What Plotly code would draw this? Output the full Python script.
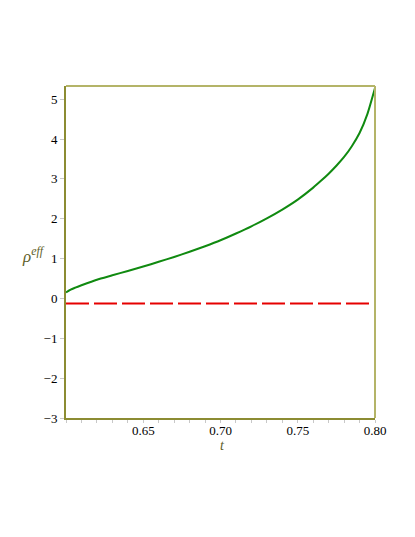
import plotly.graph_objects as go

# values
t_vals = [0.600, 0.603, 0.606, 0.610, 0.620, 0.630, 0.640, 0.650, 0.660, 0.670,
          0.680, 0.690, 0.700, 0.710, 0.720, 0.730, 0.740, 0.750, 0.760, 0.765,
          0.770, 0.775, 0.780, 0.785, 0.790, 0.795, 0.800]
rho_eff = [0.15, 0.22, 0.27, 0.33, 0.47, 0.58, 0.69, 0.80, 0.92, 1.04,
           1.17, 1.31, 1.46, 1.63, 1.81, 2.01, 2.23, 2.48, 2.78, 2.95,
           3.13, 3.33, 3.55, 3.82, 4.15, 4.62, 5.28]
t_const = [0.600, 0.800]
rho_const = [-0.13, -0.13]

x_ticks = [0.65, 0.70, 0.75, 0.80]
x_ticktext = ['0.65', '0.70', '0.75', '0.80']
y_ticks = [-3, -2, -1, 0, 1, 2, 3, 4, 5]

serif = '"Liberation Serif", "Times New Roman", "DejaVu Serif", serif'
olive = '#8c8c32'

fig = go.Figure()

fig.add_trace(go.Scatter(
    x=t_const, y=rho_const, mode='lines',
    line=dict(color='#e60000', width=2, dash='23px,5px'),
    showlegend=False, hoverinfo='skip'
))

fig.add_trace(go.Scatter(
    x=t_vals, y=rho_eff, mode='lines', line_shape='spline',
    line=dict(color='#108a10', width=2, smoothing=0.6),
    showlegend=False
))

fig.update_xaxes(
    range=[0.6, 0.8], tickvals=x_ticks, ticktext=x_ticktext,
    showgrid=False, zeroline=False,
    showline=True, linecolor=olive, linewidth=2,
    ticks='outside', ticklen=3, tickcolor='#c8c8c8', tickwidth=1,
    ticklabelstandoff=-4,
    minor=dict(dtick=0.01, ticks='outside', ticklen=3, tickcolor='#c8c8c8'),
    tickfont=dict(family=serif, size=13, color='black')
)
fig.update_yaxes(
    range=[-3, 5.33], tickvals=y_ticks,
    showgrid=False, zeroline=False,
    showline=True, linecolor=olive, linewidth=2,
    ticks='outside', ticklen=4, tickcolor='#c8c8c8', tickwidth=1,
    tickfont=dict(family=serif, size=13, color='black')
)

# lighter top and right frame edges
fig.add_shape(type='line', xref='paper', yref='paper', x0=0, x1=1, y0=1, y1=1,
              line=dict(color='#b4b468', width=2))
fig.add_shape(type='line', xref='paper', yref='paper', x0=1, x1=1, y0=0, y1=1,
              line=dict(color='#b4b468', width=2))

fig.add_annotation(
    text='<i>ρ</i><sup><i>eff</i></sup>', xref='paper', yref='paper',
    x=0, y=0.49, xanchor='right', yanchor='middle', xshift=-19, showarrow=False,
    font=dict(family=serif, size=17, color='#5e5e28')
)
fig.add_annotation(
    text='<i>t</i>', xref='paper', yref='paper',
    x=0.505, y=0, xanchor='center', yanchor='middle', yshift=-27, showarrow=False,
    font=dict(family=serif, size=14, color='#5e5e28')
)

fig.update_layout(
    width=415, height=537,
    margin=dict(l=58, r=48, t=78, b=127),
    plot_bgcolor='white', paper_bgcolor='white'
)

fig.write_html("out.html")
